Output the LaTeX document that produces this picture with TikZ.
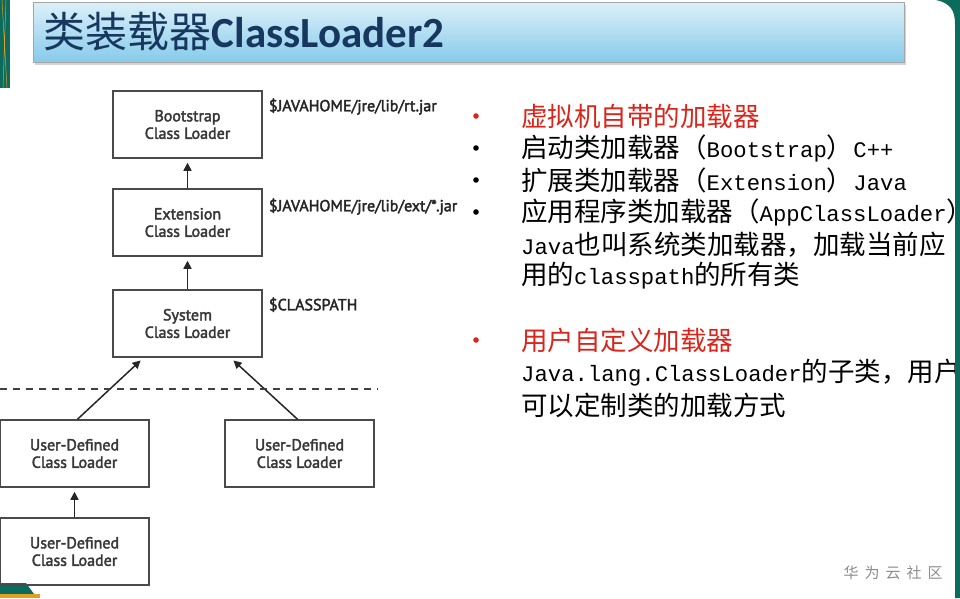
\documentclass[tikz,border=0pt]{standalone}
\usepackage{fontspec}
\setmainfont{PT Sans}
\newfontfamily\semi{PT Sans}[FakeBold=2.5]
\newfontfamily\cjk{Noto Sans CJK SC}
\newfontfamily\titlefont{Carlito}
\newfontfamily\lat{Liberation Mono}[Scale=0.84]
\usetikzlibrary{positioning, arrows.meta, shadows}

\definecolor{titletop}{HTML}{DDF0F9}
\definecolor{titlebot}{HTML}{86CBEA}
\definecolor{titleblue}{HTML}{17375E}
\definecolor{bulletred}{HTML}{D9261C}
\definecolor{boxgray}{HTML}{4A4A4A}
\definecolor{slidegreen}{HTML}{0B6B5C}
\definecolor{slideorange}{HTML}{E0A020}

\tikzset{
  loader/.style={draw=boxgray, line width=1.5pt, minimum width=149pt, minimum height=67pt,
    inner sep=0pt, align=center, font=\semi\fontsize{16}{17.5}\selectfont, text=black!78},
  up/.style={-{Triangle[length=8pt,width=8pt]}, line width=1.5pt, draw=black!85, shorten >=4pt},
  pathlabel/.style={anchor=north west, inner sep=0pt, font=\semi\fontsize{16}{18}\selectfont, text=black!85},
  item/.style={anchor=west, inner sep=0pt, font=\cjk\fontsize{26.5}{30}\selectfont},
  titlebar/.style={draw=black!35, line width=0.8pt, top color=titletop, bottom color=titlebot,
    minimum width=871pt, minimum height=60pt, inner sep=0pt,
    drop shadow={shadow xshift=2pt, shadow yshift=-3pt, opacity=0.35}},
}

\begin{document}
\begin{tikzpicture}[x=1pt, y=-1pt]
    \useasboundingbox (0,0) rectangle (960,598);
    % slide decoration
    \fill[slidegreen] (0,0) rectangle (10,88);
    \draw[slideorange, line width=0.5pt] (2,0) -- (7,88) (6,0) -- (3,88);
    \fill[slidegreen] (936,0) .. controls (950,3) and (955,10) .. (955,24) -- (955,598) -- (960,598) -- (960,0) -- cycle;
    \fill[slidegreen] (0,583) -- (26,583) -- (34,594) -- (0,594) -- cycle;
    \fill[slideorange] (0,594) rectangle (40,598);

    % title
    \node[titlebar] (bar) at (468.5,32) {};
    \node[anchor=west, inner sep=0pt, text=titleblue] (title) at ([xshift=11pt]bar.west)
        {{\cjk\fontsize{42}{44}\selectfont 类装载器}{\titlefont\bfseries\fontsize{43}{44}\selectfont ClassLoader2}};

    % loaders
    \node[loader] (boot) at (187.5,124.5) {Bootstrap\\Class Loader};
    \node[loader] (ext) at (187.5,222.5) {Extension\\Class Loader};
    \node[loader] (sys) at (187.5,323.5) {System\\Class Loader};
    \node[loader] (user1) at (74.5,453.5) {User-Defined\\Class Loader};
    \node[loader] (user2) at (299.5,453.5) {User-Defined\\Class Loader};
    \node[loader] (user3) at (74.5,551.5) {User-Defined\\Class Loader};

    \node[pathlabel, below right=8pt and 6pt of boot.north east] (bootpath) {\$JAVAHOME/jre/lib/rt.jar};
    \node[pathlabel, below right=10pt and 6pt of ext.north east] (extpath) {\$JAVAHOME/jre/lib/ext/*.jar};
    \node[pathlabel, below right=8pt and 6pt of sys.north east] (syspath) {\$CLASSPATH};

    \draw[up] (ext.north) -- (boot.south);
    \draw[up] (sys.north) -- (ext.south);
    \draw[up] ([xshift=3pt]user1.north) -- ([xshift=-44pt]sys.south);
    \draw[up] ([xshift=-2pt]user2.north) -- ([xshift=43pt]sys.south);
    \draw[up] (user3.north) -- (user1.south);

    \coordinate (cutl) at (0,389);
    \coordinate (cutr) at (378,389);
    \draw[black!75, line width=1.3pt, dash pattern=on 7pt off 6pt] (cutl) -- (cutr);

    % notes
    \fill[bulletred] (476,116) circle (2.8pt);
    \fill[black] (476,148) circle (2.8pt);
    \fill[black] (476,180) circle (2.8pt);
    \fill[black] (476,212) circle (2.8pt);
    \fill[bulletred] (476,340) circle (2.8pt);
    \node[item, text=bulletred] (n1) at (521,116) {虚拟机自带的加载器};
    \node[item] (n2) at (521,148) {启动类加载器（{\lat Bootstrap}）{\lat C++}};
    \node[item] (n3) at (521,180) {扩展类加载器（{\lat Extension}）{\lat Java}};
    \node[item] (n4) at (521,212) {应用程序类加载器（{\lat AppClassLoader}）};
    \node[item] (n5) at (521,245) {{\lat Java}也叫系统类加载器，加载当前应};
    \node[item] (n6) at (521,276) {用的{\lat classpath}的所有类};
    \node[item, text=bulletred] (n7) at (521,340) {用户自定义加载器};
    \node[item] (n8) at (521,373) {{\lat Java.lang.ClassLoader}的子类，用户};
    \node[item] (n9) at (521,405) {可以定制类的加载方式};

    % right edge over the long lines
    \fill[slidegreen] (955,24) rectangle (960,598);

    \node[text=black!45, font=\cjk\fontsize{15}{18}\selectfont] (mark) at (893,573)
        {华\hspace{6pt}为\hspace{6pt}云\hspace{6pt}社\hspace{6pt}区};
\end{tikzpicture}
\end{document}
